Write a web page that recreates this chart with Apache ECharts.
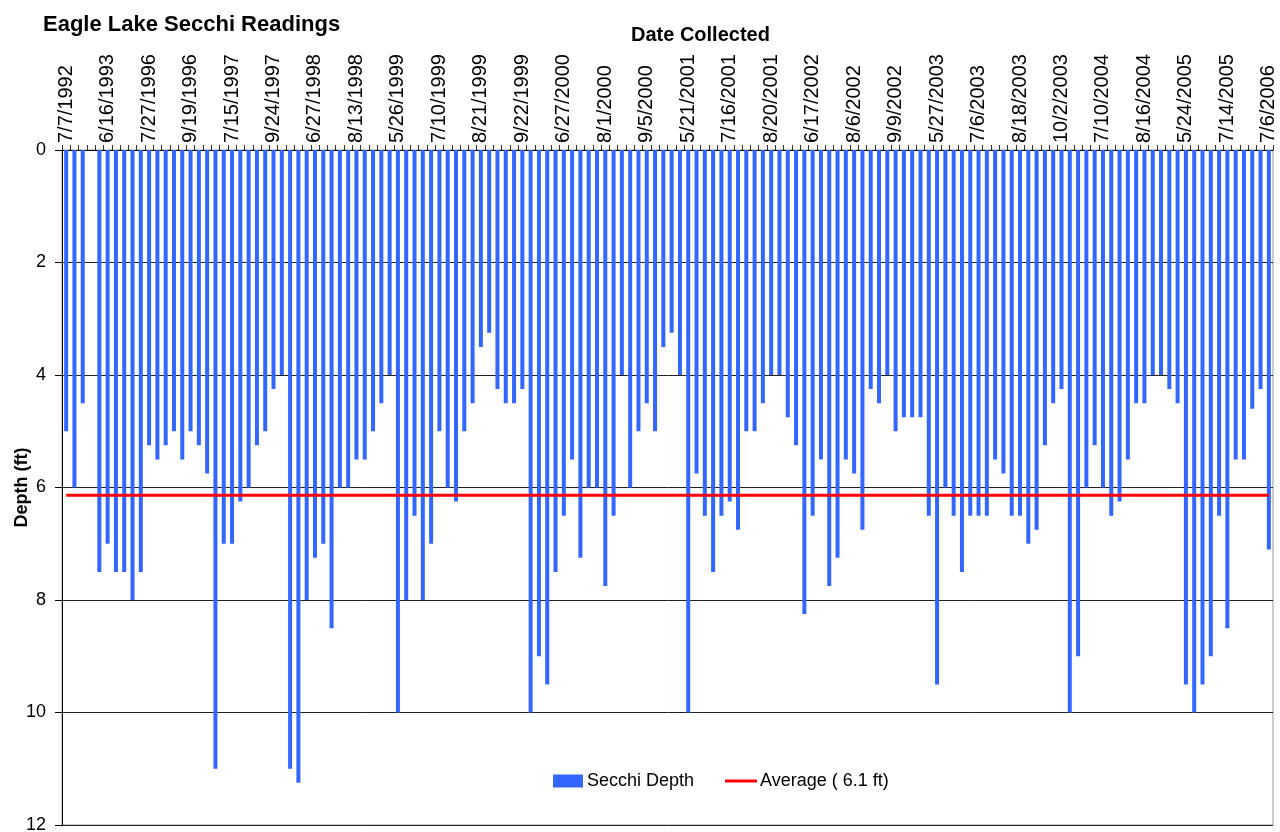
<!DOCTYPE html>
<html>
<head>
<meta charset="utf-8">
<title>Eagle Lake Secchi Readings</title>
<script src="https://cdn.jsdelivr.net/npm/echarts@6/dist/echarts.min.js"></script>
<style>
  html, body { margin: 0; padding: 0; background: #fff; }
  #chart { width: 1280px; height: 832px; }
</style>
</head>
<body>
<div id="chart"></div>
<script>
// every 5th sampling date is labelled on the axis
var dateLabels = ['7/7/1992', '6/16/1993', '7/27/1996', '9/19/1996', '7/15/1997', '9/24/1997',
  '6/27/1998', '8/13/1998', '5/26/1999', '7/10/1999', '8/21/1999', '9/22/1999', '6/27/2000',
  '8/1/2000', '9/5/2000', '5/21/2001', '7/16/2001', '8/20/2001', '6/17/2002', '8/6/2002',
  '9/9/2002', '5/27/2003', '7/6/2003', '8/18/2003', '10/2/2003', '7/10/2004', '8/16/2004',
  '5/24/2005', '7/14/2005', '7/6/2006'];

// secchi depth in ft, one per reading (null = empty row)
var depths = [
  5.0, 6.0, 4.5, null, 7.5, 7.0, 7.5, 7.5, 8.0, 7.5,
  5.25, 5.5, 5.25, 5.0, 5.5, 5.0, 5.25, 5.75, 11.0, 7.0,
  7.0, 6.25, 6.0, 5.25, 5.0, 4.25, 4.0, 11.0, 11.25, 8.0,
  7.25, 7.0, 8.5, 6.0, 6.0, 5.5, 5.5, 5.0, 4.5, 4.0,
  10.0, 8.0, 6.5, 8.0, 7.0, 5.0, 6.0, 6.25, 5.0, 4.5,
  3.5, 3.25, 4.25, 4.5, 4.5, 4.25, 10.0, 9.0, 9.5, 7.5,
  6.5, 5.5, 7.25, 6.0, 6.0, 7.75, 6.5, 4.0, 6.0, 5.0,
  4.5, 5.0, 3.5, 3.25, 4.0, 10.0, 5.75, 6.5, 7.5, 6.5,
  6.25, 6.75, 5.0, 5.0, 4.5, 4.0, 4.0, 4.75, 5.25, 8.25,
  6.5, 5.5, 7.75, 7.25, 5.5, 5.75, 6.75, 4.25, 4.5, 4.0,
  5.0, 4.75, 4.75, 4.75, 6.5, 9.5, 6.0, 6.5, 7.5, 6.5,
  6.5, 6.5, 5.5, 5.75, 6.5, 6.5, 7.0, 6.75, 5.25, 4.5,
  4.25, 10.0, 9.0, 6.0, 5.25, 6.0, 6.5, 6.25, 5.5, 4.5,
  4.5, 4.0, 4.0, 4.25, 4.5, 9.5, 10.0, 9.5, 9.0, 6.5,
  8.5, 5.5, 5.5, 4.6, 4.25, 7.1
];

var categories = depths.map(function (d, i) {
  return i % 5 === 0 ? dateLabels[i / 5] : '';
});

// mean of all readings, drawn as a flat line
var valid = depths.filter(function (d) { return d !== null; });
var average = valid.reduce(function (a, b) { return a + b; }, 0) / valid.length;
var averageLine = depths.map(function () { return average; });
var averageName = 'Average ( ' + average.toFixed(1) + ' ft)';

var font = '"Liberation Sans", Arial, Helvetica, sans-serif';

var myChart = echarts.init(document.getElementById('chart'));
myChart.setOption({
  animation: false,
  textStyle: { fontFamily: font },
  title: [{
    text: 'Eagle Lake Secchi Readings',
    left: 38, top: 9,
    textStyle: { fontSize: 22, fontWeight: 'bold', color: '#000', fontFamily: font }
  }, {
    text: 'Date Collected',
    left: 626, top: 20,
    textStyle: { fontSize: 20, fontWeight: 'bold', color: '#000', fontFamily: font }
  }],
  legend: [{
    data: ['Secchi Depth'],
    left: 548, top: 767,
    itemWidth: 30, itemHeight: 13, itemGap: 28,
    icon: 'rect',
    textStyle: { fontSize: 18, color: '#000', fontFamily: font, padding: [0, 0, 0, -1] }
  }, {
    data: [averageName],
    left: 720, top: 767,
    itemWidth: 32, itemHeight: 3,
    icon: 'rect',
    textStyle: { fontSize: 18, color: '#000', fontFamily: font, padding: [0, 0, 0, -2] }
  }],
  grid: {
    left: 62, right: 7, top: 150, bottom: 7,
    outerBoundsMode: 'none',
    containLabel: false,
    show: true, borderColor: '#999', borderWidth: 1
  },
  xAxis: {
    type: 'category',
    position: 'top',
    data: categories,
    boundaryGap: true,
    axisLine: { lineStyle: { color: '#000', width: 1 } },
    axisTick: { show: true, interval: 0, length: 5, lineStyle: { color: '#333' } },
    axisLabel: {
      interval: 4, rotate: 90, margin: 7,
      fontSize: 20, color: '#000', fontFamily: font
    },
    splitLine: { show: false }
  },
  yAxis: {
    type: 'value',
    inverse: true,
    min: 0, max: 12, interval: 2,
    name: 'Depth (ft)',
    nameLocation: 'middle',
    nameGap: 31,
    nameMoveOverlap: false,
    nameTextStyle: { fontSize: 18, fontWeight: 'bold', color: '#000', fontFamily: font },
    axisLine: { show: true, lineStyle: { color: '#000', width: 1 } },
    axisTick: { show: true, length: 7, lineStyle: { color: '#000' } },
    axisLabel: { fontSize: 18, color: '#000', margin: 16, fontFamily: font },
    splitLine: { show: true, lineStyle: { color: '#222', width: 1 } }
  },
  series: [{
    name: 'Secchi Depth',
    type: 'bar',
    data: depths,
    barWidth: 4,
    itemStyle: { color: '#3366ff' }
  }, {
    name: averageName,
    type: 'line',
    data: averageLine,
    symbol: 'none',
    z: 5,
    lineStyle: { color: '#ff0000', width: 3 },
    itemStyle: { color: '#ff0000' }
  }]
});
</script>
</body>
</html>
